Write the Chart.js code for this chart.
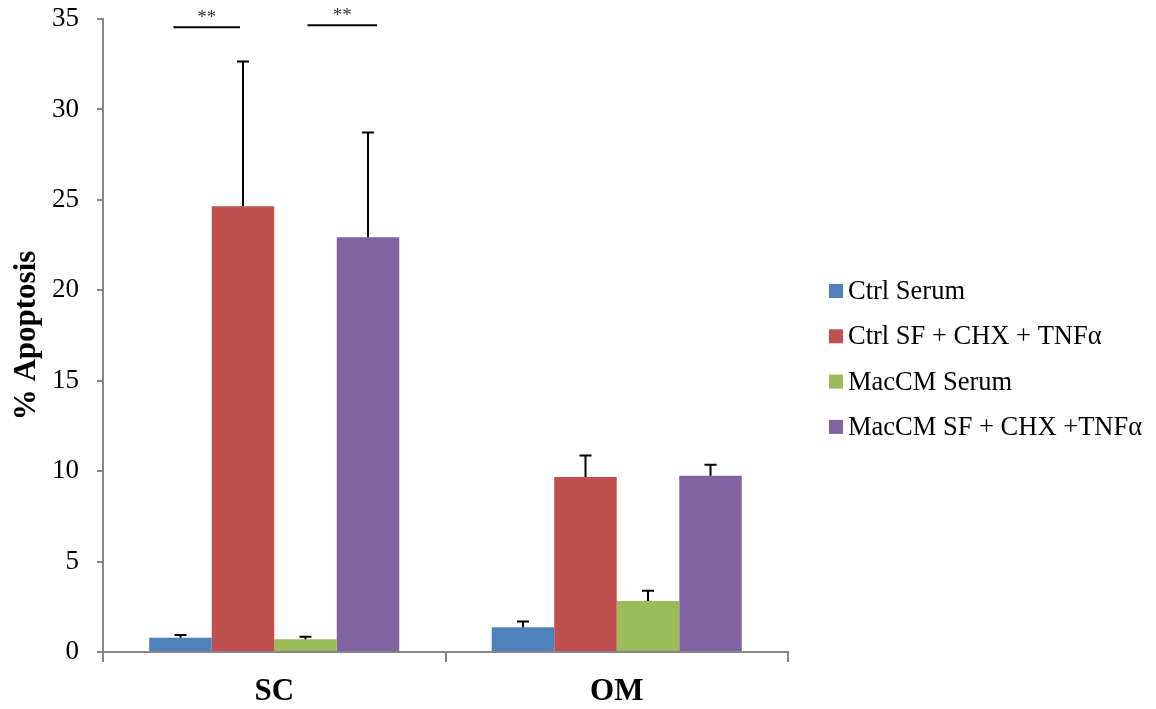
<!DOCTYPE html>
<html>
<head>
<meta charset="utf-8">
<script src="https://cdn.jsdelivr.net/npm/chart.js@4/dist/chart.umd.min.js"></script>
<style>
    html, body { margin: 0; padding: 0; background: #fff; }
    #wrap { width: 1156px; height: 709px; }
</style>
</head>
<body>
<div id="wrap"><canvas id="graph"></canvas></div>
<script>
const categories = ['SC', 'OM'];
const seriesNames = ['Ctrl Serum', 'Ctrl SF + CHX + TNFα', 'MacCM Serum', 'MacCM SF + CHX +TNFα'];
const seriesColors = ['#4F81BD', '#C0504D', '#9BBB59', '#8064A2'];

const ctrlSerum = [0.79, 1.37];
const ctrlSF = [24.64, 9.67];
const macSerum = [0.70, 2.82];
const macSF = [22.93, 9.74];

const ctrlSerumErr = [0.15, 0.31];
const ctrlSFErr = [8.01, 1.19];
const macSerumErr = [0.15, 0.56];
const macSFErr = [5.79, 0.61];

// significance bars over SC: [from series, to series, level]
const sigLines = [[0, 1, 34.55], [2, 3, 34.65]];

const serif = "'Liberation Serif', 'Times New Roman', serif";
const axisGray = '#868686';

const values = [ctrlSerum, ctrlSF, macSerum, macSF];
const errors = [ctrlSerumErr, ctrlSFErr, macSerumErr, macSFErr];

const errorBars = {
    id: 'errorBars',
    afterDatasetsDraw(chart) {
        const ctx = chart.ctx;
        const y = chart.scales.y;
        ctx.save();
        ctx.strokeStyle = '#000';
        ctx.lineWidth = 2;
        chart.data.datasets.forEach((ds, i) => {
            chart.getDatasetMeta(i).data.forEach((bar, j) => {
                const top = y.getPixelForValue(ds.data[j] + errors[i][j]);
                ctx.beginPath();
                ctx.moveTo(bar.x, bar.y);
                ctx.lineTo(bar.x, top);
                ctx.moveTo(bar.x - 6, top);
                ctx.lineTo(bar.x + 6, top);
                ctx.stroke();
            });
        });
        // significance marks
        sigLines.forEach(s => {
            const a = chart.getDatasetMeta(s[0]).data[0];
            const b = chart.getDatasetMeta(s[1]).data[0];
            const x1 = a.x - (s[0] === 0 ? 7 : -2);
            const x2 = b.x + (s[0] === 0 ? -3 : 9);
            const py = y.getPixelForValue(s[2]);
            ctx.beginPath();
            ctx.moveTo(x1, py);
            ctx.lineTo(x2, py);
            ctx.stroke();
            ctx.fillStyle = '#333';
            ctx.font = '19px ' + serif;
            ctx.textAlign = 'center';
            ctx.textBaseline = 'bottom';
            ctx.fillText('**', (x1 + x2) / 2, py);
        });
        ctx.restore();
    }
};

const sideLegend = {
    id: 'sideLegend',
    afterDraw(chart) {
        const ctx = chart.ctx;
        ctx.save();
        ctx.font = '26.5px ' + serif;
        ctx.textBaseline = 'middle';
        ctx.textAlign = 'left';
        chart.data.datasets.forEach((ds, i) => {
            const cy = 291 + i * 45.3;
            ctx.fillStyle = ds.backgroundColor;
            ctx.fillRect(829, cy - 7, 14, 14);
            ctx.fillStyle = '#000';
            ctx.fillText(ds.label, 848, cy + 1);
        });
        ctx.restore();
    }
};

const chart = new Chart(document.getElementById('graph'), {
    type: 'bar',
    data: {
        labels: categories,
        datasets: values.map((v, i) => ({
            label: seriesNames[i],
            data: v,
            backgroundColor: seriesColors[i],
            borderWidth: 0,
            categoryPercentage: 0.73,
            barPercentage: 1.0
        }))
    },
    options: {
        responsive: true,
        maintainAspectRatio: false,
        animation: false,
        layout: { padding: { top: 19, right: 368, left: 8, bottom: 0 } },
        plugins: {
            legend: { display: false },
            tooltip: { enabled: false }
        },
        scales: {
            x: {
                grid: { drawOnChartArea: false, tickLength: 10, color: axisGray, lineWidth: 2, offset: true },
                border: { color: axisGray, width: 2 },
                ticks: { color: '#000', font: { family: serif, size: 31, weight: 'bold' }, padding: 11 },
                afterFit: s => { s.height = 57; s.paddingLeft = 0; s.paddingRight = 0; }
            },
            y: {
                min: 0,
                max: 35,
                ticks: { stepSize: 5, color: '#000', font: { family: serif, size: 27 }, padding: 18 },
                grid: { drawOnChartArea: false, tickLength: 6, color: axisGray, lineWidth: 2 },
                border: { color: axisGray, width: 2 },
                title: {
                    display: true,
                    text: '% Apoptosis',
                    color: '#000',
                    font: { family: serif, size: 31, weight: 'bold' },
                    padding: 0
                },
                afterFit: s => { s.width = 95; s.paddingTop = 0; s.paddingBottom = 0; }
            }
        }
    },
    plugins: [errorBars, sideLegend]
});
</script>
</body>
</html>
